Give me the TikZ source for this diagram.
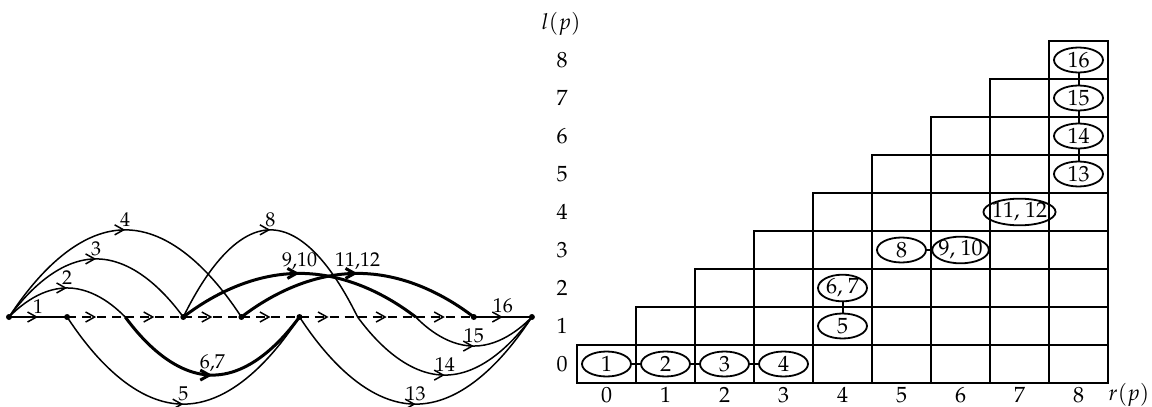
\documentclass[tikz,border=0pt]{standalone}
\usepackage[T1]{fontenc}
\usepackage{mathpazo}
\usetikzlibrary{arrows.meta,decorations.markings,shapes.geometric}
\tikzset{
  thinl/.style={line width=0.75pt},
  thickl/.style={line width=1.5pt},
  dashl/.style={line width=0.75pt,dash pattern=on 4.5pt off 3pt},
  midarrow/.style={postaction={decorate},decoration={markings,mark=at position 0.5 with {\arrow{>}}}},
  dot/.style={circle,fill,inner sep=0pt,minimum size=3pt},
  lbl/.style={inner sep=1.5pt,font=\fontsize{10}{12}\selectfont},
  cellbox/.style={line width=1pt},
  ell/.style={ellipse,draw,line width=0.9pt,minimum width=24.5pt,minimum height=12.5pt,inner xsep=-1pt,inner ysep=0pt,font=\fontsize{11}{13}\selectfont},
  conn/.style={line width=1pt},
  axl/.style={inner sep=0pt,font=\fontsize{11}{13}\selectfont}
}
\begin{document}
\begin{tikzpicture}[x=0.5pt,y=-0.5pt,>={Straight Barb[length=4.5pt,width=5pt]}]
\useasboundingbox (0,0) rectangle (1152,407);
% ---------- left diagram ----------
\foreach \n/\i in {A/0,B/1,C/3,D/4,E/5,F/8,G/9}
  \node[dot] (\n) at ({9+\i*58.1},317) {};
\foreach \n/\i in {X1/2,X2/6,X3/7}
  \coordinate (\n) at ({9+\i*58.1},317);
% extremum points of the arcs
\coordinate (p2) at (67.1,287.95);
\coordinate (p3) at (96.15,258.9);
\coordinate (p4) at (125.2,229.85);
\coordinate (p5) at (183.3,404.15);
\coordinate (p67) at (212.35,375.1);
\coordinate (p8) at (270.45,229.85);
\coordinate (p910) at (299.5,273.4);
\coordinate (p1112) at (357.6,273.4);
\coordinate (p13) at (415.7,404.15);
\coordinate (p14) at (444.75,375.1);
\coordinate (p15) at (473.8,346.05);
% dashed baseline
\foreach \s/\t in {B/X1,X1/C,C/D,D/E,E/X2,X2/X3,X3/F}
  \draw[dashl,midarrow] (\s.center) -- (\t.center);
% straight edges
\draw[thinl,midarrow] (A.center) -- node[lbl,above] (l1) {1} (B.center);
\draw[thinl,midarrow] (F.center) -- node[lbl,above] (l16) {16} (G.center);
% arcs
\draw[thinl,midarrow] (A.center) parabola bend (p2) (X1);
\draw[thinl,midarrow] (A.center) parabola bend (p3) (C.center);
\draw[thinl,midarrow] (A.center) parabola bend (p4) (D.center);
\draw[thinl,midarrow] (B.center) parabola bend (p5) (E.center);
\draw[thickl,midarrow] (X1) parabola bend (p67) (E.center);
\draw[thinl,midarrow] (C.center) parabola bend (p8) (X2);
\draw[thickl,midarrow] (C.center) parabola bend (p910) (X3);
\draw[thickl,midarrow] (D.center) parabola bend (p1112) (F.center);
\draw[thinl,midarrow] (E.center) parabola bend (p13) (G.center);
\draw[thinl,midarrow] (X2) parabola bend (p14) (G.center);
\draw[thinl,midarrow] (X3) parabola bend (p15) (G.center);
% arc labels
\node[lbl,above] (l2) at (p2) {2};
\node[lbl,above] (l3) at (p3) {3};
\node[lbl,above] (l4) at (p4) {4};
\node[lbl,above] (l5) at (p5) {5};
\node[lbl,above] (l67) at (p67) {6,7};
\node[lbl,above] (l8) at (p8) {8};
\node[lbl,above] (l910) at (p910) {9,10};
\node[lbl,above] (l1112) at (p1112) {11,12};
\node[lbl,above] (l13) at (p13) {13};
\node[lbl,above] (l14) at (p14) {14};
\node[lbl,above] (l15) at (p15) {15};
% ---------- right diagram ----------
\foreach \r in {0,...,8}
  \foreach \c in {\r,...,8}
    \draw[cellbox] ({577+\c*59},{383-\r*38}) rectangle +(59,-38);
\foreach \r in {0,...,8}
  \node[axl] (row\r) at (562,{364-\r*38}) {\r};
\foreach \c in {0,...,8}
  \node[axl] (col\c) at ({606.5+\c*59},395) {\c};
\node[axl] (ylab) at (561,24) {$l(p)$};
\node[axl] (xlab) at (1129,395) {$r(p)$};
% ellipses
\node[ell] (e1) at (606.5,364) {1};
\node[ell] (e2) at (665.5,364) {2};
\node[ell] (e3) at (724.5,364) {3};
\node[ell] (e4) at (783.5,364) {4};
\node[ell] (e5) at (842.5,326) {5};
\node[ell] (e67) at (842.5,288) {6, 7};
\node[ell] (e8) at (901.5,250) {8};
\node[ell] (e910) at (960.5,250) {9, 10};
\node[ell] (e1112) at (1019.5,212) {11, 12};
\node[ell] (e13) at (1078.5,174) {13};
\node[ell] (e14) at (1078.5,136) {14};
\node[ell] (e15) at (1078.5,98) {15};
\node[ell] (e16) at (1078.5,60) {16};
\draw[conn] (e1) -- (e2);
\draw[conn] (e2) -- (e3);
\draw[conn] (e3) -- (e4);
\draw[conn] (e5) -- (e67);
\draw[conn] (e8) -- (e910);
\draw[conn] (e13) -- (e14);
\draw[conn] (e14) -- (e15);
\draw[conn] (e15) -- (e16);
\end{tikzpicture}
\end{document}
